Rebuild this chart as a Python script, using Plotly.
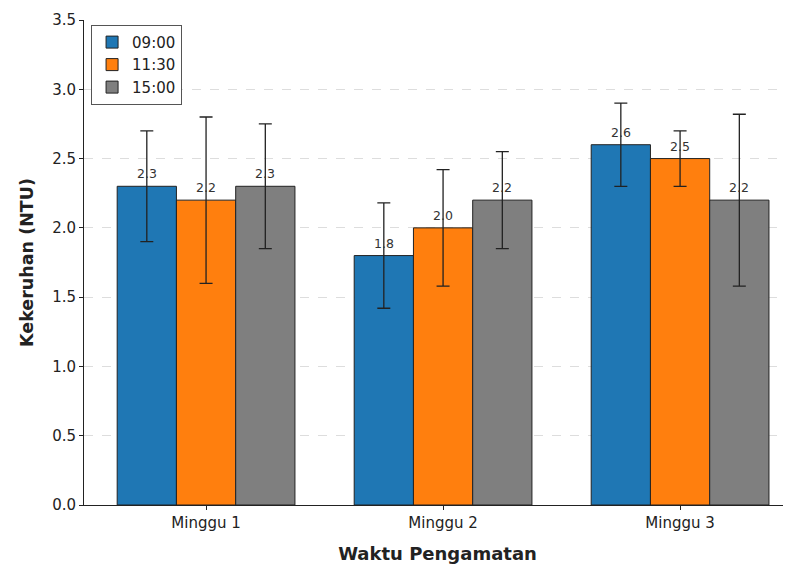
import plotly.graph_objects as go

categories = ["Minggu 1", "Minggu 2", "Minggu 3"]
series_names = ["09:00", "11:30", "15:00"]
values = {
    "09:00": [2.3, 1.8, 2.6],
    "11:30": [2.2, 2.0, 2.5],
    "15:00": [2.3, 2.2, 2.2],
}
errors = {
    "09:00": [0.4, 0.38, 0.3],
    "11:30": [0.6, 0.42, 0.2],
    "15:00": [0.45, 0.35, 0.62],
}
colors = ["#1f77b4", "#ff7f0e", "#7f7f7f"]
y_ticks = [0.0, 0.5, 1.0, 1.5, 2.0, 2.5, 3.0, 3.5]

width = 0.25
offsets = [-0.375, -0.125, 0.125]
xpos = list(range(len(categories)))

fig = go.Figure()
annotations = []
for name, col, off in zip(series_names, colors, offsets):
    fig.add_trace(go.Bar(
        x=xpos, y=values[name], name=name,
        width=width, offset=off,
        marker=dict(color=col, line=dict(color="#222222", width=1)),
        error_y=dict(type="data", array=errors[name], visible=True,
                     color="#222222", thickness=1.3, width=6.5),
    ))
    for xi, v in zip(xpos, values[name]):
        annotations.append(dict(
            x=xi + off + width / 2, y=v, xref="x", yref="y",
            text=f"{v:.1f}", showarrow=False, yanchor="bottom",
            yshift=3, font=dict(family="DejaVu Sans", size=12.5, color="#333333"),
        ))

fig.update_layout(
    width=783, height=556,
    margin=dict(l=76, r=0, t=12, b=59),
    paper_bgcolor="white", plot_bgcolor="white",
    font=dict(family="DejaVu Sans", size=15, color="#222222"),
    showlegend=True,
    legend=dict(x=0.01, y=0.99, xanchor="left", yanchor="top",
                bordercolor="#555555", borderwidth=1, bgcolor="white",
                font=dict(size=15), tracegroupgap=0),
    annotations=annotations,
    xaxis=dict(
        tickmode="array", tickvals=xpos, ticktext=categories,
        range=[-0.515, 2.468], showgrid=False, zeroline=False,
        showline=True, linecolor="#222222", linewidth=1,
        ticks="outside", ticklen=4, tickcolor="#222222",
        title=dict(text="<b>Waktu Pengamatan</b>", font=dict(size=18), standoff=24),
        tickfont=dict(size=15), automargin=False,
    ),
    yaxis=dict(
        range=[0, 3.5], tickvals=y_ticks, ticktext=[f"{t:.1f}" for t in y_ticks],
        showgrid=True, gridcolor="#dddddd", griddash="dash", gridwidth=1,
        zeroline=False, showline=True, linecolor="#222222", linewidth=1,
        ticks="outside", ticklen=4, tickcolor="#222222",
        title=dict(text="<b>Kekeruhan (NTU)</b>", font=dict(size=17.5), standoff=14),
        tickfont=dict(size=15), automargin=False,
    ),
)

fig.write_html("out.html")
